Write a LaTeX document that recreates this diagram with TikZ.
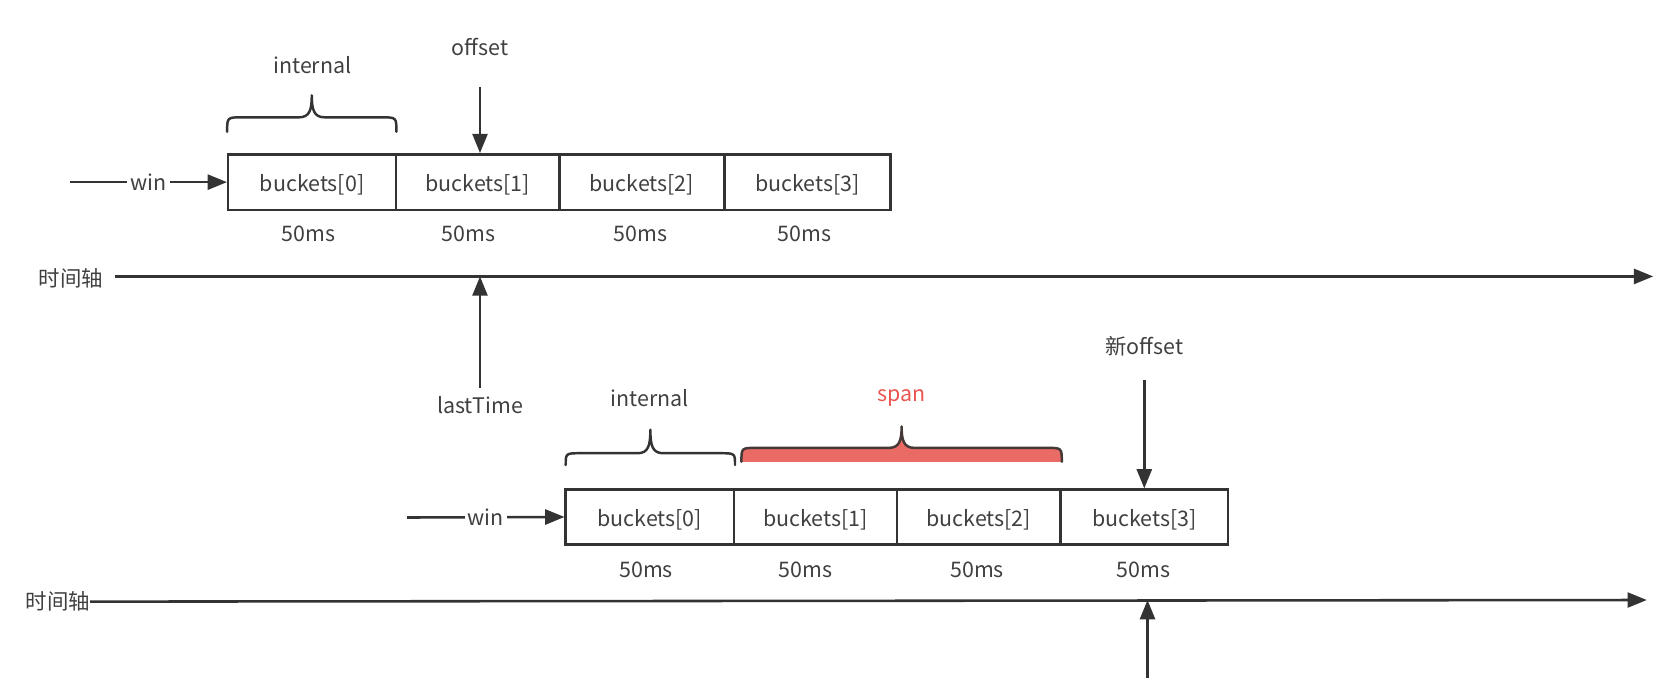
\documentclass[tikz,border=0pt]{standalone}
\usepackage{fontspec}
\setmainfont{Noto Sans CJK SC}
\usetikzlibrary{arrows.meta}
\definecolor{ink}{HTML}{333333}
\definecolor{txtc}{HTML}{404040}
\definecolor{spanfill}{HTML}{EA6B66}
\definecolor{spantext}{HTML}{EA5550}
\newcommand\drawbrace[7]{%
  \pgfmathsetmacro\bxm{(#2+#3)/2}%
  \pgfmathsetmacro\bxal{#2+14}%
  \pgfmathsetmacro\bxbl{#3-14}%
  \pgfmathsetmacro\bml{\bxm-12}%
  \pgfmathsetmacro\bmr{\bxm+12}%
  \pgfmathsetmacro\bmm{#5-7}%
  \path[#1] (#2,#4) .. controls (#2,#5) .. (\bxal,#5) -- (\bml,#5)
    .. controls (\bxm-2,#5) and (\bxm,\bmm) .. (\bxm,#6)
    .. controls (\bxm,\bmm) and (\bxm+2,#5) .. (\bmr,#5) -- (\bxbl,#5)
    .. controls (#3,#5) .. (#3,#4) #7;
}
\begin{document}
\begin{tikzpicture}[x=1pt,y=-1pt,
  txt/.style={font=\fontsize{20}{24}\selectfont, text=txtc, inner sep=0pt, yshift=-1.5pt},
  bucket/.style={draw=ink, line width=2.3pt, minimum height=52pt, inner sep=0pt,
    text height=17.6pt, text depth=0pt,
    font=\fontsize{20}{24}\selectfont, text=txtc},
  arr/.style={draw=ink, line width=2.4pt, -{Triangle[length=18pt,width=14pt]}},
  bracestroke/.style={draw=ink, line width=2.3pt, line cap=round, line join=round}]
\useasboundingbox (0,0) rectangle (1568,640);

% ---------- top window ----------
\node[bucket, minimum width=156.6pt] (t0) at (291.3,170) {buckets[0]};
\node[bucket, minimum width=152.4pt] (t1) at (445.8,170) {buckets[1]};
\node[bucket, minimum width=154pt]   (t2) at (599,170)   {buckets[2]};
\node[bucket, minimum width=155pt]   (t3) at (753.5,170) {buckets[3]};

\node[txt] (tm0) at (288,217) {50ms};
\node[txt] (tm1) at (437,217) {50ms};
\node[txt] (tm2) at (598,217) {50ms};
\node[txt] (tm3) at (751,217) {50ms};

\coordinate (w1s) at (65,170);
\draw[arr] (w1s) -- node[txt, fill=white, inner xsep=3pt, inner ysep=2pt, yshift=1.5pt] (w1) {win} (t0.west);

\drawbrace{bracestroke}{212}{370}{123}{109.5}{89}{}
\node[txt] (int1) at (291.5,59) {internal};

\node[txt] (off) at (448,42) {offset};
\coordinate (offs) at (448,81);
\draw[arr] (offs) -- (offs |- t0.north);

% ---------- timeline 1 ----------
\node[txt] (ax1) at (66,258) {时间轴};
\coordinate (ax1s) at (107,258);
\coordinate (ax1e) at (1543,258);
\draw[arr] (ax1s) -- (ax1e);

\node[txt] (lt) at (448,377) {lastTime};
\coordinate (lts) at (448,362);
\draw[arr] (lts) -- (lts |- ax1e);

% ---------- bottom window ----------
\node[bucket, minimum width=157pt, minimum height=51pt] (b0) at (606.5,482.5) {buckets[0]};
\node[bucket, minimum width=152pt, minimum height=51pt] (b1) at (761,482.5)   {buckets[1]};
\node[bucket, minimum width=153pt, minimum height=51pt] (b2) at (913.5,482.5) {buckets[2]};
\node[bucket, minimum width=156pt, minimum height=51pt] (b3) at (1068,482.5)  {buckets[3]};

\node[txt] (bm0) at (603,530) {50ms};
\node[txt] (bm1) at (752,530) {50ms};
\node[txt] (bm2) at (912,530) {50ms};
\node[txt] (bm3) at (1067,530) {50ms};

\coordinate (w2s) at (380,483);
\draw[arr] (w2s) -- node[txt, fill=white, inner xsep=3pt, inner ysep=2pt, yshift=1.5pt] (w2) {win} (b0.west);

\drawbrace{bracestroke}{528}{686}{434}{423}{401}{}
\node[txt] (int2) at (606.5,370) {internal};

\drawbrace{fill=spanfill}{692}{991}{431}{418}{398}{-- cycle}
\drawbrace{bracestroke, draw=ink!90!spanfill}{692}{991}{431}{418}{398}{}
\node[txt, text=spantext] (span) at (841,370) {span};

\node[txt] (noff) at (1068,322) {新offset};
\coordinate (nofs) at (1068,355);
\draw[arr] (nofs) -- (nofs |- b3.north);

% ---------- timeline 2 ----------
\node[txt] (ax2) at (54,560) {时间轴};
\coordinate (ax2e) at (1537,560);
\draw[arr] (ax2.east) -- (ax2e);

\coordinate (ns) at (1071,633);
\draw[arr] (ns) -- (ns |- ax2e);
\end{tikzpicture}
\end{document}
